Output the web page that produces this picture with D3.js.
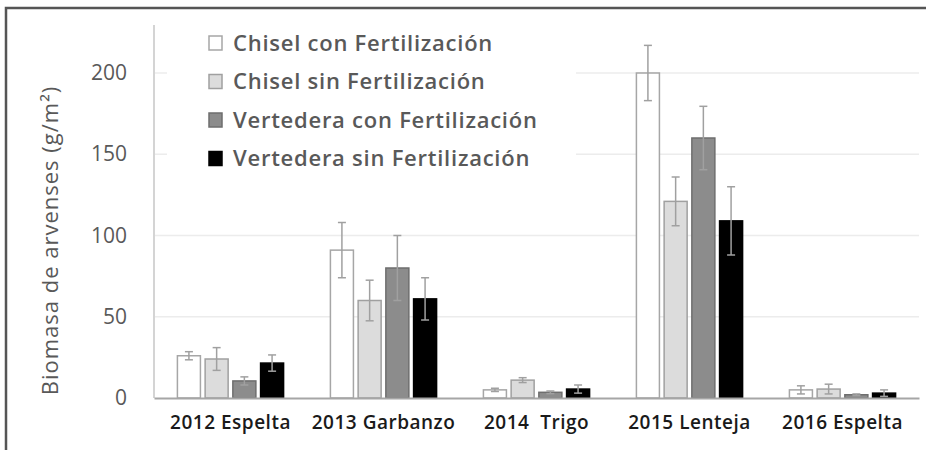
<!DOCTYPE html>
<html lang="es">
<head>
    <meta charset="UTF-8">
    <title>Biomasa de arvenses</title>
    <script src="https://d3js.org/d3.v7.min.js"></script>
    <style>
        body { margin: 0; background: #fff; }
        svg { display: block; font-family: "Open Sans", sans-serif; }
    </style>
</head>
<body>
    <div id="chart"></div>

    <script>
        const width = 926;
        const height = 450;

        // Data
        const categories = ["2012 Espelta", "2013 Garbanzo", "2014  Trigo", "2015 Lenteja", "2016 Espelta"];
        const series = ["Chisel con Fertilización", "Chisel sin Fertilización", "Vertedera con Fertilización", "Vertedera sin Fertilización"];
        const chiselCon = [26, 91, 5, 200, 5];
        const chiselSin = [24, 60, 11, 121, 5.5];
        const vertCon = [10.5, 80, 3.5, 160, 2];
        const vertSin = [21.5, 61, 5.5, 109, 3];
        const errChiselCon = [2.5, 17, 1, 17, 2.5];
        const errChiselSin = [7, 12.5, 1.5, 15, 3];
        const errVertCon = [2.5, 20, 0.8, 19.5, 0.5];
        const errVertSin = [5, 13, 2.5, 21, 2];
        const yTicks = [0, 50, 100, 150, 200];

        const values = [chiselCon, chiselSin, vertCon, vertSin];
        const errors = [errChiselCon, errChiselSin, errVertCon, errVertSin];
        const fills = ["#ffffff", "#dcdcdc", "#8c8c8c", "#000000"];
        const strokes = ["#a6a6a6", "#a0a0a0", "#6e6e6e", "#000000"];

        const plot = { left: 154, right: 919, top: 25, bottom: 398 };
        const font = '"Open Sans", sans-serif';

        const svg = d3.select("#chart")
            .append("svg")
            .attr("width", width)
            .attr("height", height);

        // frame (top and left edge only)
        svg.append("path")
            .attr("d", `M6,${height} V8 H${width}`)
            .attr("fill", "none")
            .attr("stroke", "#555")
            .attr("stroke-width", 2.5);

        const y = d3.scaleLinear()
            .domain([0, 200])
            .range([plot.bottom, 73]);

        const x0 = d3.scaleBand()
            .domain(categories)
            .range([plot.left, plot.right])
            .paddingInner(0.306)
            .paddingOuter(0.153);

        const x1 = d3.scaleBand()
            .domain(series)
            .range([0, x0.bandwidth()])
            .paddingInner(0.17);

        // gridlines
        svg.append("g")
            .selectAll("line")
            .data(yTicks.slice(1))
            .join("line")
            .attr("x1", plot.left)
            .attr("x2", plot.right)
            .attr("y1", d => y(d))
            .attr("y2", d => y(d))
            .attr("stroke", "#ececec")
            .attr("stroke-width", 1.5);

        // y axis
        const yAxis = svg.append("g")
            .attr("transform", `translate(${plot.left},0)`)
            .call(d3.axisLeft(y).tickValues(yTicks).tickSize(0).tickPadding(27));
        yAxis.attr("font-family", font);
        yAxis.select(".domain").remove();
        yAxis.selectAll("text")
            .attr("fill", "#595959")
            .style("font-size", "21px");

        svg.append("line")
            .attr("x1", plot.left).attr("x2", plot.left)
            .attr("y1", plot.top).attr("y2", plot.bottom)
            .attr("stroke", "#d4d4d4")
            .attr("stroke-width", 2);

        // legend background hides gridlines beneath it
        svg.append("rect")
            .attr("x", 167).attr("y", 24)
            .attr("width", 409).attr("height", 152)
            .attr("fill", "#fff");

        // bars
        const rows = [];
        categories.forEach((c, i) => {
            series.forEach((s, j) => {
                rows.push({ cat: c, ser: s, j: j, v: values[j][i], e: errors[j][i] });
            });
        });

        const bars = svg.append("g");
        bars.selectAll("rect")
            .data(rows)
            .join("rect")
            .attr("x", d => x0(d.cat) + x1(d.ser))
            .attr("y", d => y(d.v))
            .attr("width", x1.bandwidth())
            .attr("height", d => y(0) - y(d.v))
            .attr("fill", d => fills[d.j])
            .attr("stroke", d => strokes[d.j])
            .attr("stroke-width", 1.5);

        // error bars
        const errG = svg.append("g")
            .attr("stroke", "#a0a0a0")
            .attr("stroke-width", 1.5);
        const cx = d => x0(d.cat) + x1(d.ser) + x1.bandwidth() / 2;
        errG.selectAll("line.v")
            .data(rows)
            .join("line")
            .attr("class", "v")
            .attr("x1", cx).attr("x2", cx)
            .attr("y1", d => y(d.v + d.e))
            .attr("y2", d => y(Math.max(0, d.v - d.e)));
        errG.selectAll("line.t")
            .data(rows)
            .join("line")
            .attr("class", "t")
            .attr("x1", d => cx(d) - 4).attr("x2", d => cx(d) + 4)
            .attr("y1", d => y(d.v + d.e))
            .attr("y2", d => y(d.v + d.e));
        errG.selectAll("line.b")
            .data(rows)
            .join("line")
            .attr("class", "b")
            .attr("x1", d => cx(d) - 4).attr("x2", d => cx(d) + 4)
            .attr("y1", d => y(Math.max(0, d.v - d.e)))
            .attr("y2", d => y(Math.max(0, d.v - d.e)));

        // x axis
        const xAxis = svg.append("g")
            .attr("transform", `translate(0,${plot.bottom})`)
            .call(d3.axisBottom(x0).tickSize(0).tickPadding(18));
        xAxis.attr("font-family", font);
        xAxis.select(".domain")
            .attr("stroke", "#a6a6a6")
            .attr("stroke-width", 2);
        xAxis.selectAll("text")
            .attr("fill", "#1a1a1a")
            .style("font-size", "19px")
            .style("font-weight", 600)
            .style("letter-spacing", "0.5px")
            .style("white-space", "pre");

        // y axis title
        svg.append("text")
            .attr("transform", `translate(58,${(398 + 83) / 2}) rotate(-90)`)
            .attr("text-anchor", "middle")
            .attr("fill", "#595959")
            .style("font-size", "22px")
            .style("letter-spacing", "1px")
            .text("Biomasa de arvenses (g/m²)");

        // legend
        const legend = svg.append("g")
            .selectAll("g")
            .data(series)
            .join("g")
            .attr("transform", (d, i) => `translate(209,${43 + i * 38.5})`);
        legend.append("rect")
            .attr("x", 0).attr("y", -7)
            .attr("width", 13).attr("height", 14)
            .attr("fill", (d, i) => fills[i])
            .attr("stroke", (d, i) => strokes[i])
            .attr("stroke-width", 1.5);
        legend.append("text")
            .attr("x", 24)
            .attr("dy", "0.35em")
            .attr("fill", "#595959")
            .style("font-size", "22px")
            .style("font-weight", 600)
            .style("letter-spacing", "0.75px")
            .text(d => d);
    </script>
</body>
</html>
